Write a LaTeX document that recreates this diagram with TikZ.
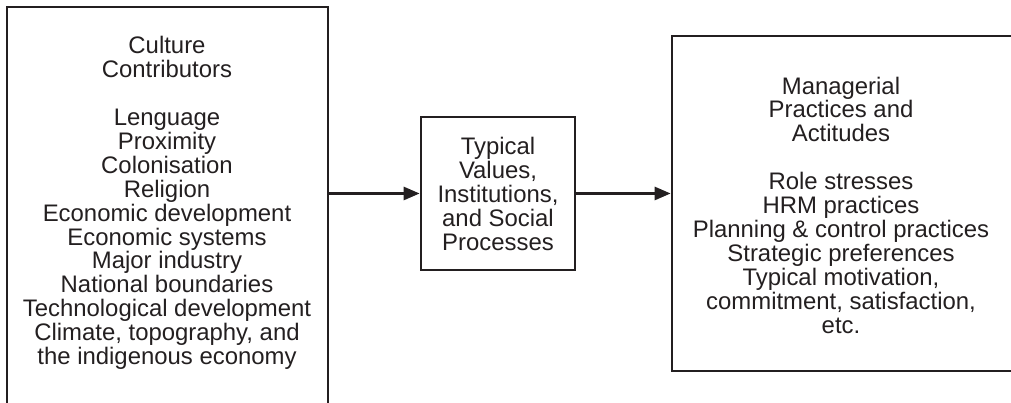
\documentclass[tikz,border=0pt]{standalone}
\usepackage{fontspec}
\setmainfont{Liberation Sans}
\usetikzlibrary{arrows.meta}

\definecolor{ink}{RGB}{35,31,32}

\begin{document}
\begin{tikzpicture}[
        > = {Triangle[length=0.32cm, width=0.26cm]},
        box/.style = {draw = ink, line width = 1.5pt, inner sep = 0pt},
        words/.style = {text = ink, align = center, inner sep = 0pt,
            font = \fontsize{13.6}{13.6}\selectfont}
    ]

        % Page size, and cut the outer boxes at its edges.
        \useasboundingbox (0.0, 0.0) rectangle (20.22, 8.06);
        \clip (0.0, 0.0) rectangle (20.22, 8.06);

        % The three boxes.
        \node[box, minimum width = 6.42cm, minimum height = 8.10cm]
            (contrib) at (3.35, 3.87) {};
        \node[box, minimum width = 3.08cm, minimum height = 3.06cm]
            (values) at (9.96, 4.19) {};
        \node[box, minimum width = 6.84cm, minimum height = 6.70cm]
            (managerial) at (16.86, 3.99) {};

        % Text of the left box.
        \node[words] (contribtext) at (3.34, 4.00) {%
            Culture\\ Contributors\\[13.6pt]
            Lenguage\\ Proximity\\ Colonisation\\ Religion\\
            Economic development\\ Economic systems\\ Major industry\\
            National boundaries\\ Technological development\\
            Climate, topography, and\\ the indigenous economy};

        % Text of the middle box.
        \node[words] (valuestext) at (9.96, 4.18) {%
            Typical\\ Values,\\ Institutions,\\ and Social\\ Processes};

        % Text of the right box.
        \node[words] (managerialtext) at (16.82, 3.96) {%
            Managerial\\ Practices and\\ Actitudes\\[13.6pt]
            Role stresses\\ HRM practices\\ Planning \& control practices\\
            Strategic preferences\\ Typical motivation,\\
            commitment, satisfaction,\\ etc.};

        % Arrows from box to box.
        \coordinate (A0) at (values.west -| contrib.east);
        \coordinate (A1) at (values.east -| managerial.west);
        \draw[->, draw = ink, fill = ink, line width = 1.5pt] (A0) to (values.west);
        \draw[->, draw = ink, fill = ink, line width = 1.5pt] (values.east) to (A1);
    \end{tikzpicture}
\end{document}
